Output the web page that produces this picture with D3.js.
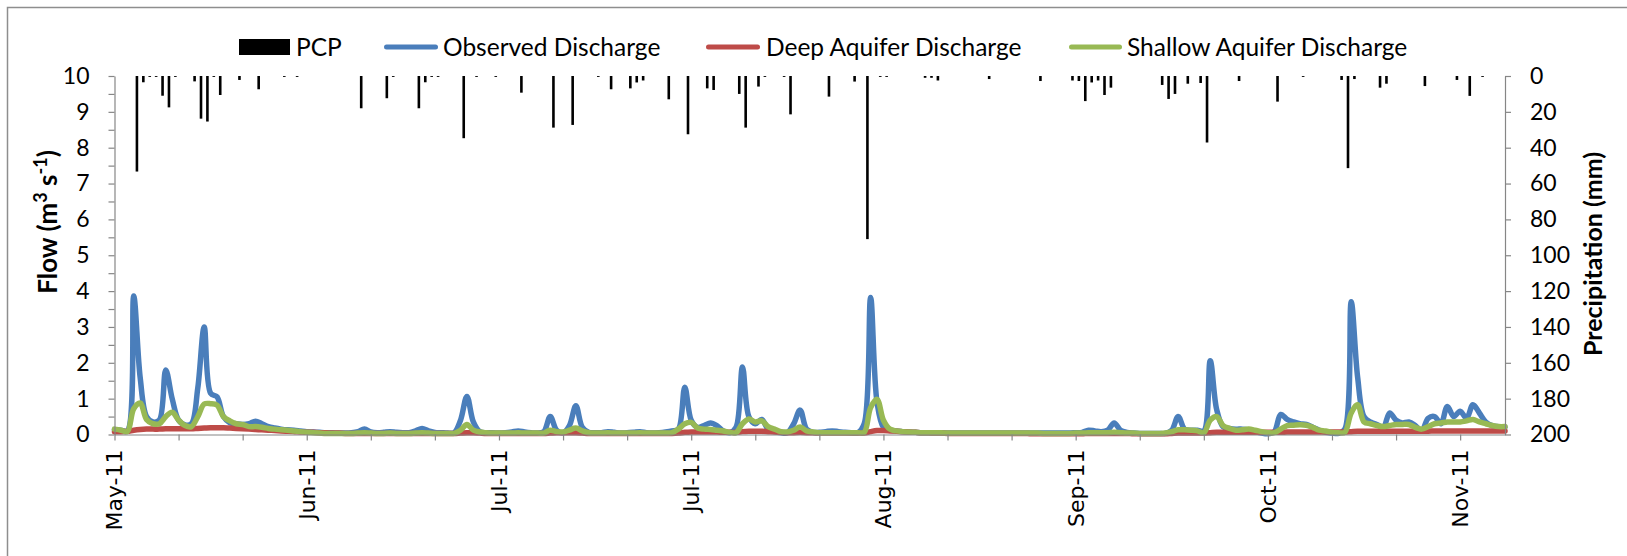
<!DOCTYPE html>
<html>
<head>
<meta charset="utf-8">
<script src="https://cdn.jsdelivr.net/npm/d3@7"></script>
<style>
  body { margin: 0; background: #fff; }
  svg { display: block; }
</style>
</head>
<body>
<svg id="chart" width="1627" height="556"></svg>
<script>
// Daily record, 2 May 2011 onwards (218 days). Tick every 10 days, label every 30.
const tickLabels = ["May-11", "Jun-11", "Jul-11", "Jul-11", "Aug-11", "Sep-11", "Oct-11", "Nov-11"];
const labelDays = [0, 30, 60, 90, 120, 150, 180, 210];

// Daily precipitation (mm)
const pcp = [
  0, 0, 0, 53.3, 3.5, 0.5, 0.5, 11, 17.5, 0.5,
  0, 0, 3, 23.8, 25.4, 0.5, 10.6, 0, 0, 2.2,
  0, 0, 7.4, 0, 0, 0, 0.5, 0, 0.5, 0,
  0, 0, 0, 0, 0, 0, 0, 0, 18, 0,
  0, 0, 12.4, 0.5, 0, 0, 0, 18, 3.5, 0.5,
  0.5, 0, 0, 0, 34.7, 0, 0.5, 0, 0, 0.5,
  0, 0, 0, 9.3, 0, 0, 0, 0, 28.8, 0,
  0, 27.3, 0, 0, 0, 0.5, 0, 7.4, 0, 0,
  6.9, 3.6, 2.5, 0, 0, 0, 13, 0, 0, 32.5,
  0, 0, 6.9, 7.8, 0, 0, 0, 10, 28.8, 0,
  5.9, 0.5, 0, 0, 0.5, 21.4, 0, 0, 0, 0,
  0, 11.5, 0, 0, 0, 3.1, 0, 91, 0, 0.5,
  0.5, 0, 0, 0, 0, 0, 1, 1, 2.5, 0,
  0, 0, 0, 0, 0, 0, 1.7, 0, 0, 0,
  0, 0, 0, 0, 2.8, 0, 0, 0, 0, 2.5,
  2.8, 14, 3.6, 2.5, 10.6, 6.5, 0, 0, 0, 0,
  0, 0, 0, 5, 12.8, 10, 0, 4.3, 0, 3.9,
  37.1, 0, 0, 0, 0, 2.8, 0, 0, 0, 0,
  0, 14.3, 0, 0, 0, 0.5, 0, 0, 0, 0,
  0, 2.2, 51.4, 1.7, 0, 0, 0, 6.5, 4.3, 0,
  0, 0, 0, 0, 5.6, 0, 0, 0, 0, 2.2,
  0, 11.1, 0, 0.5, 0, 0, 0, 0
];

// Observed discharge (m3/s)
const observed = [
  0.13, 0.12, 0.10, 3.86, 1.60, 0.50, 0.35, 0.40, 1.80, 1.00,
  0.40, 0.27, 0.30, 1.30, 3.00, 1.15, 1.05, 0.50, 0.33, 0.30,
  0.28, 0.30, 0.37, 0.30, 0.22, 0.18, 0.15, 0.13, 0.12, 0.10,
  0.08, 0.07, 0.06, 0.05, 0.05, 0.04, 0.04, 0.05, 0.08, 0.15,
  0.07, 0.05, 0.06, 0.08, 0.06, 0.05, 0.05, 0.10, 0.17, 0.10,
  0.06, 0.05, 0.04, 0.05, 0.40, 1.06, 0.35, 0.08, 0.05, 0.05,
  0.04, 0.05, 0.07, 0.10, 0.07, 0.05, 0.04, 0.08, 0.50, 0.12,
  0.05, 0.25, 0.80, 0.20, 0.06, 0.05, 0.05, 0.08, 0.06, 0.04,
  0.05, 0.06, 0.08, 0.05, 0.04, 0.05, 0.07, 0.10, 0.15, 1.32,
  0.40, 0.20, 0.25, 0.32, 0.25, 0.10, 0.05, 0.20, 1.88, 0.50,
  0.30, 0.42, 0.15, 0.08, 0.05, 0.05, 0.30, 0.68, 0.15, 0.06,
  0.06, 0.08, 0.10, 0.08, 0.06, 0.05, 0.05, 0.30, 3.82, 0.90,
  0.20, 0.12, 0.10, 0.08, 0.07, 0.06, 0.05, 0.05, 0.05, 0.05,
  0.04, 0.04, 0.04, 0.04, 0.04, 0.04, 0.04, 0.04, 0.04, 0.04,
  0.04, 0.04, 0.04, 0.04, 0.04, 0.04, 0.04, 0.04, 0.04, 0.04,
  0.05, 0.06, 0.12, 0.10, 0.08, 0.12, 0.32, 0.12, 0.06, 0.04,
  0.03, 0.03, 0.03, 0.03, 0.03, 0.12, 0.50, 0.15, 0.12, 0.12,
  0.10, 2.06, 0.70, 0.22, 0.17, 0.15, 0.15, 0.13, 0.08, 0.04,
  0.02, 0.08, 0.56, 0.42, 0.35, 0.30, 0.28, 0.20, 0.12, 0.06,
  0.04, 0.03, 0.15, 3.70, 1.60, 0.50, 0.35, 0.28, 0.20, 0.60,
  0.40, 0.32, 0.35, 0.25, 0.10, 0.45, 0.50, 0.30, 0.78, 0.50,
  0.65, 0.45, 0.83, 0.60, 0.35, 0.25, 0.22, 0.20
];

// Simulated deep aquifer discharge (m3/s)
const deep = [
  0.08, 0.08, 0.09, 0.12, 0.14, 0.15, 0.15, 0.15, 0.16, 0.16,
  0.16, 0.16, 0.16, 0.17, 0.18, 0.19, 0.19, 0.19, 0.18, 0.17,
  0.16, 0.15, 0.14, 0.13, 0.12, 0.11, 0.10, 0.09, 0.08, 0.07,
  0.06, 0.06, 0.05, 0.05, 0.04, 0.04, 0.03, 0.03, 0.03, 0.03,
  0.03, 0.03, 0.03, 0.03, 0.03, 0.03, 0.03, 0.03, 0.03, 0.03,
  0.03, 0.03, 0.03, 0.03, 0.04, 0.05, 0.05, 0.04, 0.03, 0.03,
  0.03, 0.03, 0.03, 0.03, 0.03, 0.03, 0.03, 0.03, 0.04, 0.05,
  0.05, 0.05, 0.05, 0.04, 0.03, 0.03, 0.03, 0.03, 0.03, 0.03,
  0.03, 0.03, 0.03, 0.03, 0.03, 0.03, 0.03, 0.03, 0.04, 0.06,
  0.07, 0.07, 0.07, 0.07, 0.07, 0.06, 0.06, 0.06, 0.08, 0.09,
  0.09, 0.09, 0.08, 0.07, 0.06, 0.05, 0.05, 0.06, 0.05, 0.05,
  0.04, 0.04, 0.04, 0.04, 0.04, 0.04, 0.04, 0.04, 0.08, 0.11,
  0.11, 0.10, 0.09, 0.08, 0.07, 0.06, 0.05, 0.05, 0.04, 0.04,
  0.03, 0.03, 0.03, 0.03, 0.03, 0.03, 0.03, 0.03, 0.03, 0.03,
  0.03, 0.03, 0.03, 0.02, 0.02, 0.02, 0.02, 0.02, 0.02, 0.02,
  0.02, 0.02, 0.03, 0.03, 0.03, 0.03, 0.03, 0.03, 0.03, 0.02,
  0.02, 0.02, 0.02, 0.02, 0.02, 0.03, 0.04, 0.04, 0.04, 0.04,
  0.04, 0.05, 0.06, 0.06, 0.06, 0.06, 0.06, 0.06, 0.06, 0.06,
  0.06, 0.06, 0.06, 0.07, 0.07, 0.07, 0.07, 0.07, 0.07, 0.07,
  0.07, 0.07, 0.07, 0.08, 0.09, 0.09, 0.09, 0.09, 0.09, 0.09,
  0.09, 0.09, 0.09, 0.09, 0.09, 0.09, 0.10, 0.10, 0.10, 0.10,
  0.10, 0.10, 0.10, 0.10, 0.10, 0.10, 0.10, 0.10
];

// Simulated shallow aquifer discharge (m3/s)
const shallow = [
  0.15, 0.12, 0.08, 0.72, 0.88, 0.42, 0.30, 0.30, 0.50, 0.62,
  0.40, 0.25, 0.22, 0.50, 0.85, 0.86, 0.82, 0.50, 0.38, 0.30,
  0.28, 0.22, 0.22, 0.20, 0.17, 0.15, 0.13, 0.12, 0.10, 0.08,
  0.06, 0.05, 0.04, 0.03, 0.03, 0.03, 0.03, 0.03, 0.04, 0.05,
  0.04, 0.03, 0.03, 0.04, 0.03, 0.03, 0.03, 0.04, 0.05, 0.04,
  0.03, 0.03, 0.03, 0.03, 0.12, 0.28, 0.12, 0.07, 0.05, 0.04,
  0.04, 0.04, 0.04, 0.05, 0.04, 0.04, 0.04, 0.04, 0.12, 0.08,
  0.07, 0.12, 0.18, 0.10, 0.05, 0.04, 0.04, 0.05, 0.04, 0.04,
  0.04, 0.04, 0.05, 0.04, 0.04, 0.04, 0.04, 0.05, 0.15, 0.30,
  0.34, 0.18, 0.15, 0.14, 0.12, 0.10, 0.06, 0.05, 0.30, 0.43,
  0.35, 0.38, 0.22, 0.15, 0.08, 0.07, 0.12, 0.21, 0.10, 0.07,
  0.05, 0.05, 0.05, 0.05, 0.05, 0.05, 0.05, 0.06, 0.75, 0.98,
  0.40, 0.15, 0.10, 0.08, 0.07, 0.06, 0.05, 0.05, 0.05, 0.05,
  0.04, 0.04, 0.04, 0.04, 0.04, 0.04, 0.04, 0.04, 0.04, 0.04,
  0.04, 0.04, 0.04, 0.04, 0.04, 0.03, 0.03, 0.03, 0.03, 0.03,
  0.04, 0.04, 0.05, 0.05, 0.05, 0.05, 0.06, 0.05, 0.04, 0.04,
  0.03, 0.03, 0.03, 0.03, 0.04, 0.08, 0.13, 0.13, 0.12, 0.10,
  0.05, 0.40, 0.50, 0.25, 0.17, 0.12, 0.13, 0.15, 0.12, 0.08,
  0.05, 0.05, 0.15, 0.25, 0.26, 0.27, 0.26, 0.20, 0.12, 0.10,
  0.06, 0.05, 0.06, 0.60, 0.83, 0.35, 0.30, 0.25, 0.22, 0.25,
  0.28, 0.28, 0.28, 0.20, 0.15, 0.22, 0.30, 0.32, 0.35, 0.35,
  0.35, 0.38, 0.42, 0.35, 0.30, 0.25, 0.22, 0.22
];

const seriesNames = ["PCP", "Observed Discharge", "Deep Aquifer Discharge", "Shallow Aquifer Discharge"];
const seriesColors = ["#000000", "#4A7EBB", "#BE4B48", "#98B954"];

const svg = d3.select("#chart");
const W = 1627, H = 556;
const plot = { left: 114.5, right: 1505, top: 76, bottom: 434.5 };
const axisColor = "#868686";
const tickFont = "Lato, 'Open Sans', sans-serif";

// chart frame
svg.append("rect")
  .attr("x", 7.5).attr("y", 7.5)
  .attr("width", W + 20).attr("height", H + 20)
  .attr("fill", "#fff").attr("stroke", "#8e8e8e").attr("stroke-width", 1.5);

const x = d3.scaleLinear().domain([0, observed.length - 1]).range([plot.left, plot.right]);
const yFlow = d3.scaleLinear().domain([0, 10]).range([plot.bottom, plot.top]);
const yPcp = d3.scaleLinear().domain([0, 200]).range([plot.top, plot.bottom]);

// precipitation bars hanging from the top (reversed secondary axis)
svg.append("g").selectAll("rect")
  .data(pcp.map((v, i) => ({ i, v })).filter(d => d.v > 0))
  .join("rect")
  .attr("x", d => x(d.i + 0.5) - 1.3)
  .attr("width", 2.6)
  .attr("y", yPcp(0))
  .attr("height", d => Math.max(0.8, yPcp(d.v) - yPcp(0)))
  .attr("fill", seriesColors[0]);

// smoothed flow lines
const line = d3.line()
  .x((d, i) => x(i))
  .y(d => yFlow(d))
  .curve(d3.curveCatmullRom.alpha(0.5));

[[observed, 1], [deep, 2], [shallow, 3]].forEach(([vals, k]) => {
  svg.append("path")
    .attr("d", line(vals))
    .attr("fill", "none")
    .attr("stroke", seriesColors[k])
    .attr("stroke-width", 5.5)
    .attr("stroke-linejoin", "round")
    .attr("stroke-linecap", "round");
});

function styleAxis(g) {
  g.select(".domain").attr("stroke", axisColor).attr("stroke-width", 1.2);
  g.selectAll(".tick line").attr("stroke", axisColor).attr("stroke-width", 1.2);
  g.selectAll(".tick text").attr("fill", "#000").attr("font-family", tickFont).attr("font-size", 23);
}

// left axis: labels on integers, ticks every 0.5
svg.append("g")
  .attr("transform", `translate(${plot.left},0)`)
  .call(d3.axisLeft(yFlow)
    .tickValues(d3.range(0, 10.001, 0.5))
    .tickFormat(d => Number.isInteger(d) ? d : "")
    .tickSizeInner(6).tickSizeOuter(0).tickPadding(19))
  .call(styleAxis);

// right axis: precipitation
svg.append("g")
  .attr("transform", `translate(${plot.right},0)`)
  .call(d3.axisRight(yPcp)
    .tickValues(d3.range(0, 200.001, 20))
    .tickSizeInner(6).tickSizeOuter(0).tickPadding(19))
  .call(styleAxis);

// bottom axis: tick every 10 days
const xAxis = svg.append("g")
  .attr("transform", `translate(0,${plot.bottom})`)
  .call(d3.axisBottom(x)
    .tickValues(d3.range(0, 211, 10))
    .tickFormat("")
    .tickSizeInner(6).tickSizeOuter(0))
  .call(styleAxis);

xAxis.selectAll("text.month")
  .data(labelDays)
  .join("text")
  .attr("class", "month")
  .attr("transform", d => `translate(${x(d)},15) rotate(-90)`)
  .attr("text-anchor", "end")
  .attr("dy", "0.36em")
  .attr("font-family", "'DejaVu Sans', Verdana, sans-serif")
  .attr("font-size", 22)
  .attr("fill", "#000")
  .text((d, i) => tickLabels[i]);

// axis titles
const leftTitle = svg.append("text")
  .attr("transform", "translate(57,222) rotate(-90)")
  .attr("text-anchor", "middle")
  .attr("font-family", tickFont)
  .attr("font-weight", "bold")
  .attr("font-size", 26)
  .attr("fill", "#000");
leftTitle.append("tspan").text("Flow (m");
leftTitle.append("tspan").attr("font-size", 18).attr("dy", -10).text("3");
leftTitle.append("tspan").attr("dy", 10).text(" s");
leftTitle.append("tspan").attr("font-size", 18).attr("dy", -10).text("-1");
leftTitle.append("tspan").attr("dy", 10).text(")");

svg.append("text")
  .attr("transform", "translate(1602,254) rotate(-90)")
  .attr("text-anchor", "middle")
  .attr("font-family", tickFont)
  .attr("font-weight", "bold")
  .attr("font-size", 25)
  .attr("fill", "#000")
  .text("Precipitation (mm)");

// legend
const legendY = 47;
const legendItems = [
  { sx: 239, ex: 290, tx: 296 },
  { sx: 384, ex: 438, tx: 443 },
  { sx: 706, ex: 760, tx: 766 },
  { sx: 1069, ex: 1122, tx: 1127 }
];
const legend = svg.append("g");
legendItems.forEach((it, k) => {
  if (k === 0) {
    legend.append("rect")
      .attr("x", it.sx).attr("y", legendY - 8)
      .attr("width", it.ex - it.sx).attr("height", 16)
      .attr("fill", seriesColors[0]);
  } else {
    legend.append("line")
      .attr("x1", it.sx + 2.5).attr("x2", it.ex - 2.5)
      .attr("y1", legendY).attr("y2", legendY)
      .attr("stroke", seriesColors[k])
      .attr("stroke-width", 5)
      .attr("stroke-linecap", "round");
  }
  legend.append("text")
    .attr("x", it.tx).attr("y", legendY)
    .attr("dy", "0.35em")
    .attr("font-family", tickFont)
    .attr("font-size", 24.5)
    .attr("fill", "#000")
    .text(seriesNames[k]);
});
</script>
</body>
</html>
